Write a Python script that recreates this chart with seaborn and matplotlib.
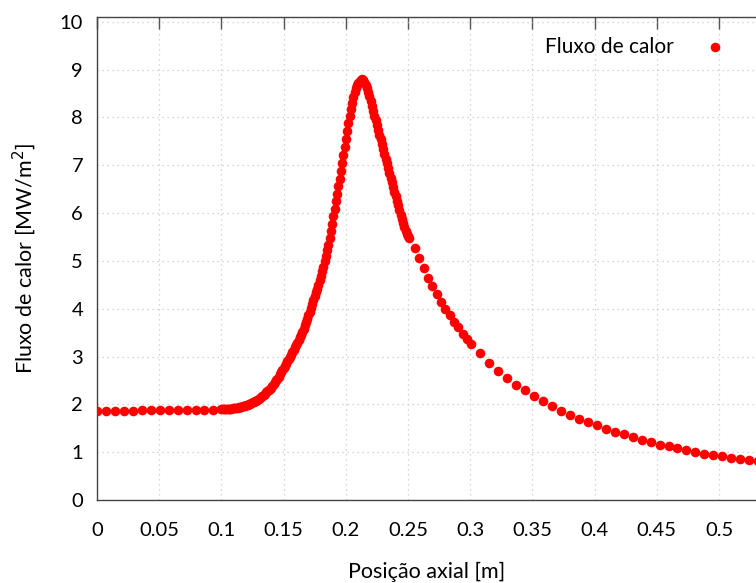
import numpy as np
import pandas as pd
import seaborn as sns
import matplotlib.pyplot as plt

# axial position [m] and heat flux [MW/m2]
# region before the heated zone (coarse mesh)
x_inlet = [0.0, 0.0072, 0.0144, 0.0216, 0.0288, 0.036, 0.0432, 0.0504,
           0.0576, 0.0648, 0.072, 0.0792, 0.0864, 0.0936]
q_inlet = [1.86, 1.87, 1.87, 1.87, 1.87, 1.88, 1.88, 1.88,
           1.88, 1.88, 1.89, 1.89, 1.89, 1.89]

# fine mesh around the peak
x_peak = [0.100, 0.101, 0.102, 0.103, 0.104, 0.105, 0.106, 0.107, 0.108, 0.109,
          0.110, 0.111, 0.112, 0.113, 0.114, 0.115, 0.116, 0.117, 0.118, 0.119,
          0.120, 0.121, 0.122, 0.123, 0.124, 0.125, 0.126, 0.127, 0.128, 0.129,
          0.130, 0.131, 0.132, 0.133, 0.134, 0.135, 0.136, 0.137, 0.138, 0.139,
          0.140, 0.141, 0.142, 0.143, 0.144, 0.145, 0.146, 0.147, 0.148, 0.149,
          0.150, 0.151, 0.152, 0.153, 0.154, 0.155, 0.156, 0.157, 0.158, 0.159,
          0.160, 0.161, 0.162, 0.163, 0.164, 0.165, 0.166, 0.167, 0.168, 0.169,
          0.170, 0.171, 0.172, 0.173, 0.174, 0.175, 0.176, 0.177, 0.178, 0.179,
          0.180, 0.181, 0.182, 0.183, 0.184, 0.185, 0.186, 0.187, 0.188, 0.189,
          0.190, 0.191, 0.192, 0.193, 0.194, 0.195, 0.196, 0.197, 0.198, 0.199,
          0.200, 0.201, 0.202, 0.203, 0.204, 0.205, 0.206, 0.207, 0.208, 0.209,
          0.210, 0.211, 0.212, 0.213, 0.214, 0.215, 0.216, 0.217, 0.218, 0.219,
          0.220, 0.221, 0.222, 0.223, 0.224, 0.225, 0.226, 0.227, 0.228, 0.229,
          0.230, 0.231, 0.232, 0.233, 0.234, 0.235, 0.236, 0.237, 0.238, 0.239,
          0.240, 0.241, 0.242, 0.243, 0.244, 0.245, 0.246, 0.247, 0.248, 0.249,
          0.250, 0.251]
q_peak = [1.90, 1.90, 1.90, 1.90, 1.90, 1.91, 1.91, 1.91, 1.91, 1.92,
          1.92, 1.92, 1.93, 1.93, 1.94, 1.94, 1.95, 1.96, 1.96, 1.97,
          1.98, 1.99, 2.00, 2.01, 2.02, 2.04, 2.05, 2.06, 2.08, 2.10,
          2.12, 2.14, 2.16, 2.18, 2.20, 2.22, 2.25, 2.27, 2.30, 2.32,
          2.35, 2.38, 2.42, 2.46, 2.50, 2.54, 2.58, 2.63, 2.67, 2.72,
          2.76, 2.80, 2.85, 2.90, 2.94, 2.99, 3.04, 3.09, 3.14, 3.19,
          3.24, 3.29, 3.35, 3.40, 3.46, 3.52, 3.58, 3.65, 3.72, 3.79,
          3.86, 3.94, 4.02, 4.10, 4.18, 4.26, 4.34, 4.42, 4.50, 4.59,
          4.68, 4.78, 4.88, 4.99, 5.10, 5.22, 5.34, 5.48, 5.63, 5.78,
          5.94, 6.09, 6.25, 6.40, 6.56, 6.72, 6.88, 7.05, 7.21, 7.38,
          7.55, 7.71, 7.88, 8.03, 8.18, 8.31, 8.43, 8.53, 8.61, 8.68,
          8.73, 8.77, 8.79, 8.80, 8.78, 8.74, 8.68, 8.61, 8.53, 8.44,
          8.34, 8.24, 8.14, 8.04, 7.94, 7.84, 7.74, 7.64, 7.54, 7.44,
          7.34, 7.24, 7.14, 7.04, 6.94, 6.84, 6.74, 6.64, 6.54, 6.45,
          6.35, 6.25, 6.16, 6.06, 5.97, 5.88, 5.79, 5.71, 5.63, 5.56,
          5.52, 5.47]

# medium mesh right after the peak
x_mid = [0.2555, 0.259, 0.2625, 0.266, 0.2695, 0.273, 0.2765, 0.280,
         0.2835, 0.287, 0.2905, 0.294, 0.2975, 0.301]
q_mid = [5.27, 5.06, 4.85, 4.65, 4.48, 4.31, 4.15, 4.00,
         3.86, 3.73, 3.61, 3.48, 3.37, 3.26]

# coarse mesh downstream
x_out = [0.3082, 0.3154, 0.3226, 0.3298, 0.3370, 0.3442, 0.3514, 0.3586,
         0.3658, 0.3730, 0.3802, 0.3874, 0.3946, 0.4018, 0.4090, 0.4162,
         0.4234, 0.4306, 0.4378, 0.4450, 0.4522, 0.4594, 0.4666, 0.4738,
         0.4810, 0.4882, 0.4954, 0.5026, 0.5098, 0.5170, 0.5242, 0.5314]
q_out = [3.07, 2.87, 2.70, 2.55, 2.41, 2.29, 2.17, 2.06,
         1.96, 1.86, 1.78, 1.70, 1.63, 1.56, 1.49, 1.43,
         1.37, 1.31, 1.26, 1.21, 1.16, 1.12, 1.08, 1.04,
         1.01, 0.97, 0.94, 0.91, 0.88, 0.85, 0.83, 0.81]

xticks = [0, 0.05, 0.1, 0.15, 0.2, 0.25, 0.3, 0.35, 0.4, 0.45, 0.5]
xticklabels = ["0", "0.05", "0.1", "0.15", "0.2", "0.25", "0.3", "0.35", "0.4", "0.45", "0.5"]
yticks = list(range(0, 11))

df = pd.DataFrame({
    "x": x_inlet + x_peak + x_mid + x_out,
    "q": q_inlet + q_peak + q_mid + q_out,
})

sns.set_style("white")
plt.rcParams['font.family'] = ['Lato', 'DejaVu Sans']
plt.rcParams['text.color'] = 'black'
plt.rcParams['axes.labelcolor'] = 'black'

fig = plt.figure(figsize=(7.56, 5.83), dpi=100)
ax = fig.add_axes([0.1283, 0.1424, 0.8717, 0.8284])

sns.scatterplot(data=df, x="x", y="q", color="red", s=48, linewidth=0,
                label="Fluxo de calor", ax=ax, zorder=3)

ax.set_xlim(0, 0.5297)
ax.set_ylim(0, 10.1)
ax.set_xticks(xticks)
ax.set_xticklabels(xticklabels)
ax.set_yticks(yticks)

ax.grid(True, linestyle=(0, (1, 3)), color="#c8c8c8", linewidth=0.9)
ax.tick_params(direction="in", length=8.5, width=1, color="#555555",
               labelsize=14.5, top=True, right=False, labelcolor="black")
ax.tick_params(axis="x", pad=16)
ax.tick_params(axis="y", pad=10)
for side in ["left", "bottom", "top"]:
    ax.spines[side].set_color("#444444")
    ax.spines[side].set_linewidth(1)
ax.spines["right"].set_visible(False)

ax.set_xlabel("Posição axial [m]", fontsize=15.5, labelpad=16)
ax.set_ylabel("Fluxo de calor [MW/m$^2$]", fontsize=15.5, labelpad=16)

ax.legend(loc="upper right", bbox_to_anchor=(0.988, 0.985), frameon=False,
          markerfirst=False, fontsize=15, handletextpad=0.95, borderaxespad=0.2)

fig.savefig("out.png", dpi=100)
